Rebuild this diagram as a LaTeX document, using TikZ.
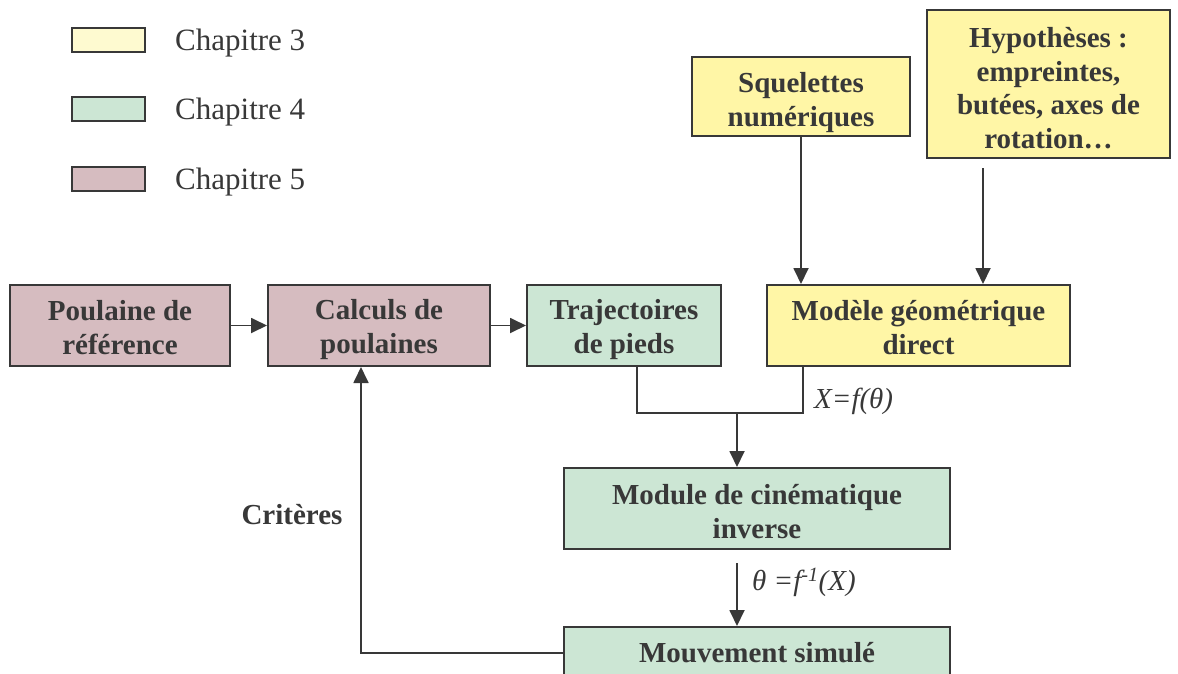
\documentclass[tikz,border=0pt]{standalone}
\usepackage{fontspec}
\setmainfont{Liberation Serif}
\usetikzlibrary{arrows.meta}
\definecolor{ylw}{HTML}{FFF6A6}
\definecolor{ylwl}{HTML}{FEFAD0}
\definecolor{grn}{HTML}{CCE6D4}
\definecolor{pnk}{HTML}{D6BCC0}
\definecolor{ink}{HTML}{383838}
\tikzset{
  box/.style={draw=ink, line width=2pt, inner sep=0pt},
  btxt/.style={align=center, text=ink, inner sep=0pt, yshift=-4pt,
    font=\fontsize{29}{33.5}\selectfont\bfseries},
  legbox/.style={draw=ink, line width=2pt, minimum width=73, minimum height=24, inner sep=0pt},
  legtxt/.style={anchor=west, text=ink, inner sep=0pt, font=\fontsize{31}{36}\selectfont},
  conn/.style={draw=ink, line width=1.8pt},
  arr/.style={conn, -{Triangle[length=16pt,width=15pt]}},
  lbl/.style={text=ink, inner sep=0pt, font=\fontsize{29}{33}\selectfont\itshape},
}
\begin{document}
\begin{tikzpicture}[x=1pt,y=-1pt]
\useasboundingbox (0,0) rectangle (1178,673);
\clip (0,0) rectangle (1178,673);
% legend
\node[legbox, fill=ylwl] (l3) at (108.5,40) {};
\node[legbox, fill=grn] (l4) at (108.5,109) {};
\node[legbox, fill=pnk] (l5) at (108.5,179) {};
\node[legtxt] (t3) at (175,43) {Chapitre 3};
\node[legtxt] (t4) at (175,112) {Chapitre 4};
\node[legtxt] (t5) at (175,182) {Chapitre 5};
% boxes
\node[box, fill=ylw, minimum width=218, minimum height=79,
  label={[btxt, yshift=-2pt, name=sqt]center:{Squelettes\\numériques}}] (sq) at (801,96.5) {};
\node[box, fill=ylw, minimum width=243, minimum height=148,
  label={[btxt, name=hyt]center:{Hypothèses :\\empreintes,\\butées, axes de\\rotation…}}] (hy) at (1048.5,84) {};
\node[box, fill=pnk, minimum width=220, minimum height=81,
  label={[btxt, yshift=2pt, name=prt]center:{Poulaine de\\référence}}] (pr) at (120,325.5) {};
\node[box, fill=pnk, minimum width=222, minimum height=81,
  label={[btxt, name=cpt]center:{Calculs de\\poulaines}}] (cp) at (379,325.5) {};
\node[box, fill=grn, minimum width=194, minimum height=81,
  label={[btxt, name=tpt]center:{Trajectoires\\de pieds}}] (tp) at (624,325.5) {};
\node[box, fill=ylw, minimum width=303, minimum height=81,
  label={[btxt, yshift=2pt, name=mgt]center:{Modèle géométrique\\direct}}] (mg) at (918.5,325.5) {};
\node[box, fill=grn, minimum width=386, minimum height=81,
  label={[btxt, yshift=1pt, name=mit]center:{Module de cinématique\\inverse}}] (mi) at (757,508.5) {};
\node[box, fill=grn, minimum width=386, minimum height=52,
  label={[btxt, yshift=4pt, name=mst]center:{Mouvement simulé}}] (ms) at (757,653) {};
\node[text=ink, inner sep=0pt, font=\fontsize{29}{33}\selectfont\bfseries] (cr) at (292,515) {Critères};
% coordinates
\coordinate (hs) at (983,168);
\coordinate (jl) at (637,413);
\coordinate (jm) at (737,413);
\coordinate (jr) at (803,413);
\coordinate (a1) at (737,563);
\coordinate (fb) at (361,653);
% connectors
\draw[arr] (pr.east) -- (cp.west);
\draw[arr] (cp.east) -- (tp.west);
\draw[arr] (sq.south) -- (sq.south |- mg.north);
\draw[arr] (hs) -- (hs |- mg.north);
\draw[conn] (jl |- tp.south) -- (jl) -- (jr) -- (jr |- mg.south);
\draw[arr] (jm) -- (jm |- mi.north);
\draw[arr] (a1) -- (a1 |- ms.north);
\draw[arr] (ms.west) -- (fb) -- (fb |- cp.south);
% labels
\node[lbl, anchor=west] (xf) at (814,401) {X=f(θ)};
\node[lbl, anchor=west] (tf) at (752,582) {θ =f\textsuperscript{-1}(X)};
\end{tikzpicture}
\end{document}
